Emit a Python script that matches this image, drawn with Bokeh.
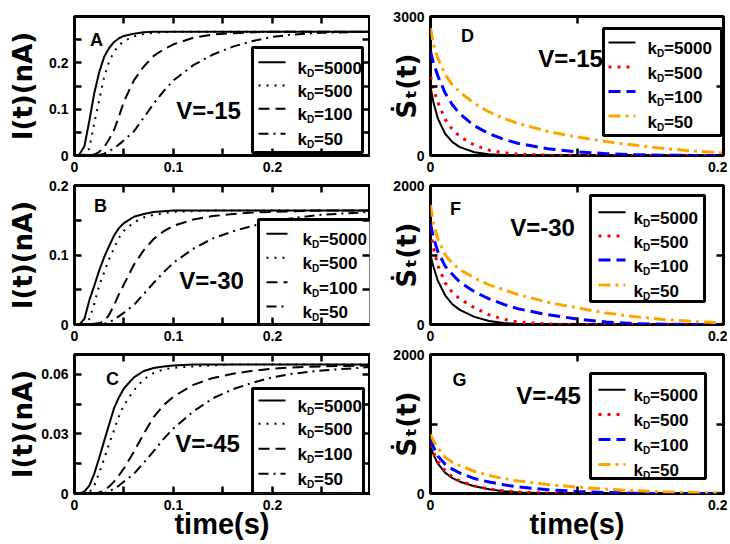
from bokeh.plotting import figure
from bokeh.layouts import column, row
from bokeh.models import Range1d, FixedTicker, LinearAxis
from bokeh.core.properties import value
from bokeh.embed import file_html
from bokeh.resources import INLINE

# ---------------------------------------------------------------- data
# time grids (s)
t_left = [0, 0.005, 0.01, 0.015, 0.02, 0.025, 0.03, 0.035, 0.04, 0.045, 0.05,
          0.06, 0.07, 0.08, 0.09, 0.1, 0.12, 0.14, 0.16, 0.18, 0.2, 0.22, 0.25, 0.3]
t_right = [0, 0.002, 0.005, 0.01, 0.015, 0.02, 0.03, 0.04, 0.05, 0.06, 0.08,
           0.1, 0.12, 0.14, 0.16, 0.18, 0.2]

kd_values = ["5000", "500", "100", "50"]
voltages = ["-15", "-30", "-45"]

# current I(t) in nA, V = -15
cur_v15_kd5000 = [0, 0.002, 0.02, 0.075, 0.135, 0.18, 0.213, 0.232, 0.245, 0.253, 0.258,
                  0.263, 0.266, 0.267, 0.267, 0.267, 0.267, 0.267, 0.267, 0.267, 0.267, 0.267, 0.267, 0.267]
cur_v15_kd500 = [0, 0, 0.002, 0.015, 0.07, 0.12, 0.17, 0.203, 0.224, 0.238, 0.247,
                 0.257, 0.262, 0.265, 0.266, 0.267, 0.267, 0.267, 0.267, 0.267, 0.267, 0.267, 0.267, 0.267]
cur_v15_kd100 = [0, 0, 0, 0, 0.002, 0.008, 0.018, 0.035, 0.055, 0.085, 0.117,
                 0.162, 0.192, 0.215, 0.229, 0.24, 0.254, 0.261, 0.264, 0.266, 0.267, 0.267, 0.267, 0.267]
cur_v15_kd50 = [0, 0, 0, 0, 0, 0.001, 0.004, 0.009, 0.016, 0.024, 0.033,
                0.052, 0.082, 0.112, 0.139, 0.162, 0.195, 0.218, 0.235, 0.247, 0.256, 0.261, 0.265, 0.267]

# current I(t) in nA, V = -30
cur_v30_kd5000 = [0, 0, 0.008, 0.035, 0.056, 0.078, 0.097, 0.113, 0.128, 0.139, 0.146,
                  0.155, 0.159, 0.162, 0.163, 0.164, 0.164, 0.164, 0.164, 0.164, 0.164, 0.164, 0.164, 0.164]
cur_v30_kd500 = [0, 0, 0, 0.008, 0.03, 0.056, 0.075, 0.094, 0.11, 0.125, 0.135,
                 0.147, 0.154, 0.158, 0.16, 0.162, 0.163, 0.164, 0.164, 0.164, 0.164, 0.164, 0.164, 0.164]
cur_v30_kd100 = [0, 0, 0, 0, 0.001, 0.002, 0.005, 0.014, 0.028, 0.044, 0.058,
                 0.086, 0.107, 0.123, 0.134, 0.142, 0.151, 0.156, 0.159, 0.161, 0.162, 0.163, 0.164, 0.164]
cur_v30_kd50 = [0, 0, 0, 0, 0, 0, 0.001, 0.003, 0.007, 0.012, 0.017,
                0.028, 0.044, 0.06, 0.075, 0.089, 0.109, 0.124, 0.134, 0.142, 0.148, 0.153, 0.158, 0.162]

# current I(t) in nA, V = -45
cur_v45_kd5000 = [0, 0, 0.001, 0.004, 0.01, 0.018, 0.0265, 0.0348, 0.0431, 0.0485, 0.053,
                  0.0585, 0.0617, 0.0632, 0.064, 0.0645, 0.065, 0.065, 0.065, 0.065, 0.065, 0.065, 0.065, 0.065]
cur_v45_kd500 = [0, 0, 0, 0.0005, 0.004, 0.0105, 0.0175, 0.025, 0.032, 0.039, 0.0445,
                 0.052, 0.0575, 0.0607, 0.0625, 0.0633, 0.064, 0.0645, 0.065, 0.065, 0.065, 0.065, 0.065, 0.065]
cur_v45_kd100 = [0, 0, 0, 0, 0, 0.0005, 0.0015, 0.0035, 0.006, 0.0092, 0.0127,
                 0.021, 0.0302, 0.0385, 0.0445, 0.0488, 0.0547, 0.0582, 0.0603, 0.0618, 0.0628, 0.0635, 0.064, 0.0645]
cur_v45_kd50 = [0, 0, 0, 0, 0, 0, 0.0003, 0.001, 0.0025, 0.004, 0.006,
                0.0099, 0.0155, 0.0213, 0.0275, 0.0328, 0.0413, 0.048, 0.0525, 0.0558, 0.0585, 0.0603, 0.062, 0.0637]

# entropy production rate S_t(t), V = -15
rate_v15_kd5000 = [1480, 1150, 800, 470, 290, 180, 70, 25, 10, 4, 0, 0, 0, 0, 0, 0, 0]
rate_v15_kd500 = [1700, 1450, 1150, 780, 560, 410, 220, 115, 60, 30, 8, 2, 0, 0, 0, 0, 0]
rate_v15_kd100 = [2250, 2000, 1720, 1350, 1090, 900, 640, 470, 350, 260, 145, 80, 40, 18, 6, 2, 0]
rate_v15_kd50 = [2750, 2400, 2100, 1750, 1520, 1370, 1120, 940, 800, 690, 520, 400, 300, 220, 150, 95, 55]

# entropy production rate S_t(t), V = -30
rate_v30_kd5000 = [1000, 830, 630, 420, 290, 210, 110, 50, 20, 8, 0, 0, 0, 0, 0, 0, 0]
rate_v30_kd500 = [1350, 1100, 850, 600, 460, 370, 240, 140, 75, 35, 8, 0, 0, 0, 0, 0, 0]
rate_v30_kd100 = [1450, 1250, 1050, 840, 720, 610, 470, 370, 290, 225, 140, 80, 35, 12, 3, 0, 0]
rate_v30_kd50 = [1720, 1450, 1230, 1000, 880, 790, 670, 570, 500, 430, 320, 240, 165, 110, 70, 42, 24]

# entropy production rate S_t(t), V = -45
rate_v45_kd5000 = [680, 560, 430, 300, 220, 170, 105, 60, 32, 15, 3, 0, 0, 0, 0, 0, 0]
rate_v45_kd500 = [700, 590, 460, 330, 240, 180, 110, 65, 38, 20, 5, 0, 0, 0, 0, 0, 0]
rate_v45_kd100 = [780, 670, 540, 420, 350, 295, 215, 165, 125, 95, 55, 30, 14, 5, 0, 0, 0]
rate_v45_kd50 = [850, 760, 650, 520, 450, 400, 320, 260, 215, 180, 130, 92, 62, 40, 25, 14, 6]

# ---------------------------------------------------------------- styles
FONT = "Liberation Sans"
LEFT_STYLES = [
    dict(line_color="black", line_width=2),
    dict(line_color="black", line_width=2, line_dash="2 6"),
    dict(line_color="black", line_width=2, line_dash="11 6"),
    dict(line_color="black", line_width=2, line_dash="10 5 2 5"),
]
RIGHT_STYLES = [
    dict(line_color="black", line_width=2),
    dict(line_color="#ff0000", line_width=3, line_dash="3 6"),
    dict(line_color="#0000ff", line_width=3, line_dash="12 6"),
    dict(line_color="#ffa500", line_width=3, line_dash="12 5 3 5"),
]

# page geometry: canvas sizes and frame borders
COL_W = [370, 357]
COL_BL = [74, 60]
COL_BR = [1, 4]
ROW_H = [177, 169, 198]
ROW_BT = [16, 8, 8]
ROW_BB = [22, 22, 51]
COL_X0 = [0, 370]
ROW_Y0 = [0, 177, 346]
FRAME_H = 139

panels = [
    dict(col=0, row=0, t=t_left, series=[cur_v15_kd5000, cur_v15_kd500, cur_v15_kd100, cur_v15_kd50],
         xr=(0, 0.298), yr=(0, 0.3), xt=[0, 0.1, 0.2], xm=[0.05, 0.15, 0.25],
         yt=[0, 0.1, 0.2], ym=[0.05, 0.15, 0.25], letter="A", letter_at=(96, 39),
         volt=voltages[0], volt_at=(208, 110),
         legend=dict(box=(252, 47, 362, 152), rows=[61.7, 85, 108.3, 133.3], line=(258, 285), text=297)),
    dict(col=1, row=0, t=t_right, series=[rate_v15_kd5000, rate_v15_kd500, rate_v15_kd100, rate_v15_kd50],
         xr=(0, 0.2), yr=(0, 3000), xt=[0, 0.2], xm=[0.1], yt=[0, 3000], ym=[1500],
         letter="D", letter_at=(467, 35), volt=voltages[0], volt_at=(570, 58),
         legend=dict(box=(603, 28, 721, 135), rows=[42, 66.5, 91, 115.5], line=(608, 635), text=647)),
    dict(col=0, row=1, t=t_left, series=[cur_v30_kd5000, cur_v30_kd500, cur_v30_kd100, cur_v30_kd50],
         xr=(0, 0.298), yr=(0, 0.2), xt=[0, 0.1, 0.2], xm=[0.05, 0.15, 0.25],
         yt=[0, 0.1, 0.2], ym=[0.05, 0.15], letter="B", letter_at=(100, 205),
         volt=voltages[1], volt_at=(211, 280),
         legend=dict(box=(258, 219, 385, 324), rows=[233.3, 257.3, 281.7, 306], line=(266, 287), text=302)),
    dict(col=1, row=1, t=t_right, series=[rate_v30_kd5000, rate_v30_kd500, rate_v30_kd100, rate_v30_kd50],
         xr=(0, 0.2), yr=(0, 2000), xt=[0, 0.2], xm=[0.1], yt=[0, 2000], ym=[1000],
         letter="F", letter_at=(455, 208), volt=voltages[1], volt_at=(542, 227),
         legend=dict(box=(590, 195, 704, 301), rows=[211.7, 235.5, 259.5, 284.5], line=(598, 625), text=633)),
    dict(col=0, row=2, t=t_left, series=[cur_v45_kd5000, cur_v45_kd500, cur_v45_kd100, cur_v45_kd50],
         xr=(0, 0.298), yr=(0, 0.07), xt=[0, 0.1, 0.2], xm=[0.05, 0.15, 0.25],
         yt=[0, 0.03, 0.06], ym=[0.015, 0.045], letter="C", letter_at=(112, 378),
         volt=voltages[2], volt_at=(207, 443),
         legend=dict(box=(252, 388, 363, 493), rows=[400, 423.3, 448.3, 473.3], line=(258, 285), text=297)),
    dict(col=1, row=2, t=t_right, series=[rate_v45_kd5000, rate_v45_kd500, rate_v45_kd100, rate_v45_kd50],
         xr=(0, 0.2), yr=(0, 2000), xt=[0, 0.2], xm=[0.1], yt=[0, 2000], ym=[1000],
         letter="G", letter_at=(459, 379), volt=voltages[2], volt_at=(548, 395),
         legend=dict(box=(590, 373, 705, 478), rows=[389.3, 414, 439, 464], line=(598, 625), text=633)),
]


def style_axis(ax, ticks, minor, labels=True):
    if labels:
        ax.ticker = FixedTicker(ticks=ticks, minor_ticks=minor)
    else:
        # mirrored side: every tick as a minor tick, so no labels are produced
        ax.ticker = FixedTicker(ticks=[], minor_ticks=sorted(ticks + minor))
    ax.axis_line_color = None
    ax.major_tick_in = 7
    ax.major_tick_out = 0
    ax.minor_tick_in = 7
    ax.minor_tick_out = 0
    ax.major_tick_line_width = 2.5
    ax.minor_tick_line_width = 2.5
    ax.major_tick_line_color = "black"
    ax.minor_tick_line_color = "black"
    ax.major_label_text_font = FONT
    ax.major_label_text_font_style = "bold"
    ax.major_label_text_color = "black"
    ax.major_label_text_font_size = "14px"
    ax.major_label_standoff = 6 if labels else 0


def make_panel(spec):
    c, r = spec["col"], spec["row"]
    fl = COL_X0[c] + COL_BL[c]
    fw = COL_W[c] - COL_BL[c] - COL_BR[c]
    ft = ROW_Y0[r] + ROW_BT[r]
    x0, x1 = spec["xr"]
    y0, y1 = spec["yr"]

    def X(px):
        return x0 + (px - fl) / fw * (x1 - x0)

    def Y(py):
        return y0 + (ft + FRAME_H - py) / FRAME_H * (y1 - y0)

    p = figure(width=COL_W[c], height=ROW_H[r], x_range=Range1d(x0, x1), y_range=Range1d(y0, y1),
               output_backend="svg", toolbar_location=None,
               min_border_left=COL_BL[c], min_border_right=COL_BR[c],
               min_border_top=ROW_BT[r], min_border_bottom=ROW_BB[r],
               background_fill_color="white", border_fill_color="white")
    p.grid.visible = False
    p.outline_line_color = "black"
    p.outline_line_width = 3

    xax = p.xaxis[0]
    yax = p.yaxis[0]
    style_axis(xax, spec["xt"], spec["xm"])
    style_axis(yax, spec["yt"], spec["ym"])
    top_ax = LinearAxis()
    right_ax = LinearAxis()
    style_axis(top_ax, spec["xt"], spec["xm"], labels=False)
    style_axis(right_ax, spec["yt"], spec["ym"], labels=False)
    p.add_layout(top_ax, "above")
    p.add_layout(right_ax, "right")

    yax.axis_label_text_font = "DejaVu Sans"
    yax.axis_label_text_font_style = "bold"
    yax.axis_label_text_font_size = "26px"
    yax.axis_label_text_color = "black"
    if c == 0:
        yax.axis_label = "I(t)(nA)"
        yax.axis_label_standoff = 0 if r == 2 else 8
    else:
        yax.axis_label = "Ṡₜ(t)"
        yax.axis_label_standoff = -32

    if r == 2:
        xax.axis_label = "time(s)"
        xax.axis_label_text_font = FONT
        xax.axis_label_text_font_style = "bold"
        xax.axis_label_text_font_size = "29px"
        xax.axis_label_text_color = "black"
        xax.axis_label_standoff = -5

    styles = LEFT_STYLES if c == 0 else RIGHT_STYLES
    for ys, st in zip(spec["series"], styles):
        p.line(spec["t"], ys, **st)

    txt = dict(text_font=value(FONT), text_font_style="bold", text_color="black")
    lx, ly = spec["letter_at"]
    p.text(x=[X(lx)], y=[Y(ly)], text=[spec["letter"]], text_align="center",
           text_baseline="middle", text_font_size="18px", **txt)
    vx, vy = spec["volt_at"]
    p.text(x=[X(vx)], y=[Y(vy)], text=["V=" + spec["volt"]], text_align="center",
           text_baseline="middle", text_font_size="24px", **txt)

    # legend: framed box with line samples and k_D labels (subscript as a smaller, lowered text)
    lg = spec["legend"]
    bl, bt, br, bb = lg["box"]
    p.quad(left=[X(bl)], right=[X(br)], top=[Y(bt)], bottom=[Y(bb)],
           fill_color="white", line_color="black", line_width=3)
    ax0, ax1 = lg["line"]
    tx = lg["text"]
    for ry, st, kd in zip(lg["rows"], styles, kd_values):
        p.line([X(ax0), X(ax1)], [Y(ry), Y(ry)], **st)
        p.text(x=[X(tx)], y=[Y(ry + 6)], text=["k"], text_align="left",
               text_baseline="alphabetic", text_font_size="17px", **txt)
        p.text(x=[X(tx + 9.4)], y=[Y(ry + 11)], text=["D"], text_align="left",
               text_baseline="alphabetic", text_font_size="10px", **txt)
        p.text(x=[X(tx + 16.6)], y=[Y(ry + 6)], text=["=" + kd], text_align="left",
               text_baseline="alphabetic", text_font_size="17px", **txt)
    return p


figs = [make_panel(s) for s in panels]
layout = column(row(figs[0], figs[1]), row(figs[2], figs[3]), row(figs[4], figs[5]))

open("out.html", "w").write(file_html(layout, INLINE))
